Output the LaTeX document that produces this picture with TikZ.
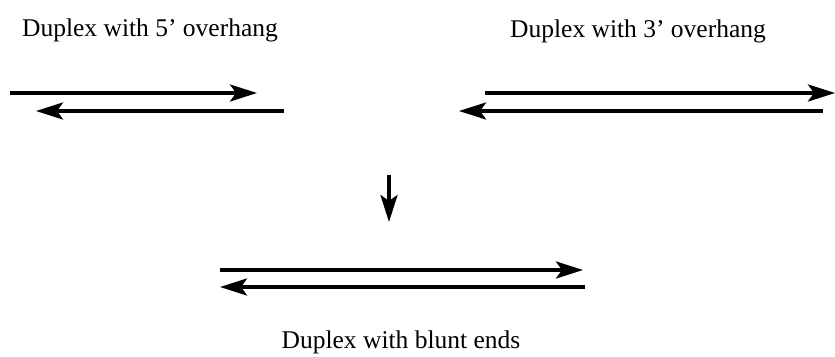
\documentclass[tikz,border=0pt]{standalone}
\usepackage{fontspec}
\setmainfont{Liberation Serif}
\usetikzlibrary{arrows.meta}
\begin{document}
\begin{tikzpicture}[x=1pt,y=-1pt,
  strand/.style={line width=3.6pt,-{Stealth[length=27pt,width=17pt,inset=6pt]}},
  lbl/.style={font=\fontsize{25.5}{30}\selectfont,inner sep=0pt,anchor=base}]
\useasboundingbox (0,0) rectangle (835,356);
% left duplex (5' overhang)
\coordinate (l1s) at (10,93);  \coordinate (l1e) at (257,93);
\coordinate (l2s) at (284,111); \coordinate (l2e) at (36,111);
\draw[strand] (l1s) -- (l1e);
\draw[strand] (l2s) -- (l2e);
% right duplex (3' overhang)
\coordinate (r1s) at (485,93);  \coordinate (r1e) at (835,93);
\coordinate (r2s) at (823,111); \coordinate (r2e) at (459,111);
\draw[strand] (r1s) -- (r1e);
\draw[strand] (r2s) -- (r2e);
% down arrow
\coordinate (ds) at (389,175); \coordinate (de) at (389,222);
\draw[strand] (ds) -- (de);
% blunt duplex
\coordinate (b1s) at (220,270); \coordinate (b1e) at (583,270);
\coordinate (b2s) at (585,287); \coordinate (b2e) at (220,287);
\draw[strand] (b1s) -- (b1e);
\draw[strand] (b2s) -- (b2e);
% labels
\node[lbl] (t5) at (150,36) {Duplex with 5’ overhang};
\node[lbl] (t3) at (638,37) {Duplex with 3’ overhang};
\node[lbl] (tb) at (401,348) {Duplex with blunt ends};
\end{tikzpicture}
\end{document}
